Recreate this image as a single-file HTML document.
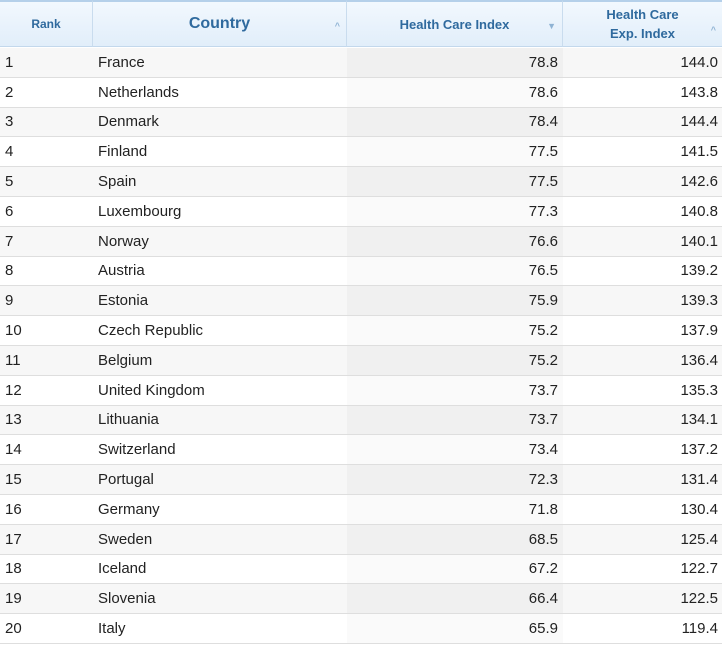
<!DOCTYPE html>
<html><head><meta charset="utf-8"><style>
body{margin:0;width:722px;height:646px;background:#fff;font-family:"Liberation Sans",Arial,sans-serif;overflow:hidden;position:relative}
.h{position:absolute;top:0;height:47px;border-top:2px solid #b5d0ea;border-bottom:1px solid #c3d8ec;background:linear-gradient(#f2f8fe,#e1eefa);color:#2f6a9e;font-weight:bold;display:flex;align-items:center;justify-content:center;text-align:center;box-sizing:border-box;border-right:1px solid #c9dcee}
.h .a{position:absolute;right:6px;top:19px;font-size:9px;color:#8fb3d4}
.r{position:absolute;left:0;width:722px;box-sizing:border-box;border-bottom:1px solid #dedede;font-size:15px;color:#222}
.c{position:absolute;top:0;bottom:0;display:flex;align-items:center;box-sizing:border-box}
</style></head><body>
<div class="h" style="left:0;width:93px;font-size:12px">Rank</div>
<div class="h" style="left:93px;width:254px;font-size:16px">Country<span class="a">^</span></div>
<div class="h" style="left:347px;width:216px;font-size:13px">Health Care Index<span class="a">▼</span></div>
<div class="h" style="left:563px;width:159px;font-size:13px;line-height:19px;border-right:none">Health Care<br>Exp. Index<span class="a">^</span></div>
<div id="rows"></div>
<script>
const countries=["France","Netherlands","Denmark","Finland","Spain","Luxembourg","Norway","Austria","Estonia","Czech Republic","Belgium","United Kingdom","Lithuania","Switzerland","Portugal","Germany","Sweden","Iceland","Slovenia","Italy"];
const hci=["78.8","78.6","78.4","77.5","77.5","77.3","76.6","76.5","75.9","75.2","75.2","73.7","73.7","73.4","72.3","71.8","68.5","67.2","66.4","65.9"];
const hcei=["144.0","143.8","144.4","141.5","142.6","140.8","140.1","139.2","139.3","137.9","136.4","135.3","134.1","137.2","131.4","130.4","125.4","122.7","122.5","119.4"];
const body=document.getElementById('rows');
countries.forEach((c,i)=>{
 const odd=i%2===0;
 const r=document.createElement('div');
 
 
 r.className='r';
 r.style.top=(48+i*29.8)+'px';r.style.height='29.8px';
 r.style.background=odd?'#f7f7f7':'#fff';
 r.innerHTML=`<div class="c" style="left:5px">${i+1}</div>
<div class="c" style="left:98px">${c}</div>
<div class="c" style="left:347px;width:216px;justify-content:flex-end;padding-right:5px;background:${odd?'#f0f0f0':'#fafafa'}">${hci[i]}</div>
<div class="c" style="left:563px;width:155px;justify-content:flex-end">${hcei[i]}</div>`;
 body.appendChild(r);
});
</script>
</body></html>
